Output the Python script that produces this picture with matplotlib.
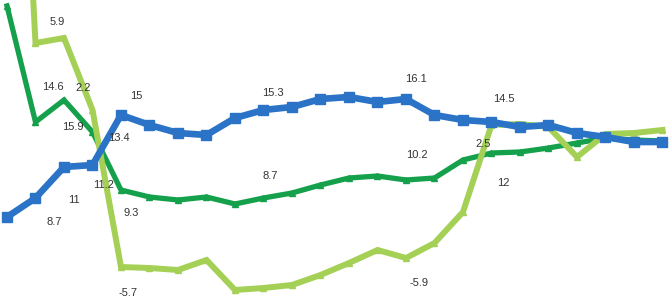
import numpy as np
import matplotlib
matplotlib.use("Agg")
import matplotlib.pyplot as plt

## -------- data -------- ##

# 24 periods, values on an arbitrary scale (the chart shows no axis)
periods = np.arange(24)

blue = [8.0, 9.9, 13.0, 13.2, 18.2, 17.2, 16.4, 16.2, 17.9, 18.7, 19.0, 19.8,
        20.0, 19.5, 19.8, 18.2, 17.7, 17.5, 17.0, 17.2, 16.4, 16.0, 15.5, 15.5]
dark_green = [29.1, 17.5, 19.7, 16.5, 10.7, 10.0, 9.7, 10.0, 9.3, 9.9, 10.4, 11.2,
              11.9, 12.1, 11.7, 11.9, 13.7, 14.4, 14.5, 14.9, 15.4, 15.9, 15.7, 15.6]
light_green = [80.0, 25.4, 25.9, 18.7, 3.0, 2.9, 2.7, 3.7, 0.7, 0.9, 1.2, 2.2,
               3.4, 4.7, 3.9, 5.4, 8.5, 17.2, 17.3, 17.0, 14.0, 16.3, 16.4, 16.7]

# data labels: text, period, value
label_text = ["5.9", "14.6", "2.2", "15.9", "15", "13.4", "11.2", "11", "8.7", "9.3",
              "-5.7", "15.3", "16.1", "8.7", "10.2", "-5.9", "14.5", "2.5", "12"]
label_x = [1.75, 1.61, 2.67, 2.32, 4.53, 3.93, 3.40, 2.35, 1.65, 4.35,
           4.25, 9.33, 14.35, 9.23, 14.39, 14.46, 17.44, 16.70, 17.40]
label_y = [27.5, 21.0, 20.9, 17.0, 20.1, 15.9, 11.2, 9.7, 7.5, 8.4,
           0.4, 20.4, 21.8, 12.1, 14.2, 1.4, 19.8, 15.3, 11.4]

## -------- plot -------- ##

fig = plt.figure(figsize=(6.71, 2.97), dpi=100)
ax = fig.add_axes([0, 0, 1, 1])

ax.plot(periods, dark_green, color="#15a04b", lw=3.8, marker="^", ms=4.5,
        solid_joinstyle="miter", zorder=2)
ax.plot(periods, light_green, color="#a5d056", lw=4.3, marker="^", ms=4.5,
        solid_joinstyle="miter", zorder=3)
ax.plot(periods, blue, color="#2a73c7", lw=4.8, marker="s", ms=7,
        solid_joinstyle="miter", zorder=4)

for t, x, y in zip(label_text, label_x, label_y):
    ax.text(x, y, t, ha="center", va="center", fontsize=8,
            family="Liberation Sans", color="#333333", zorder=5)

ax.set_xlim(-7 / 28.5, 664 / 28.5)
ax.set_ylim(0, 29.7)
ax.axis("off")

fig.savefig("out.png", dpi=100)
